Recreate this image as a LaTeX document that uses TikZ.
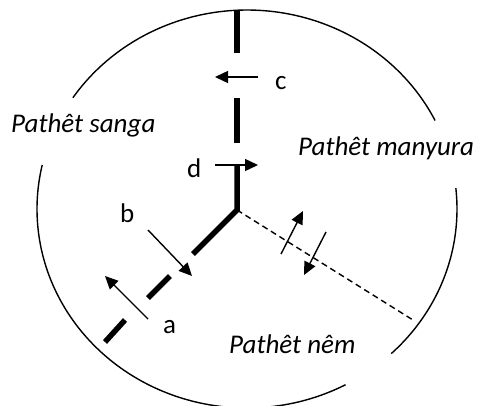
\documentclass[tikz,border=0pt]{standalone}
\usepackage{fontspec}
\setmainfont{Carlito}
\usetikzlibrary{arrows.meta}
\begin{document}
\begin{tikzpicture}[x=1pt,y=-1pt,
  thickseg/.style={line width=5.5pt},
  thinarrow/.style={line width=1.4pt,-{Triangle[length=13pt,width=12pt]}},
  dashline/.style={line width=1.4pt,dash pattern=on 6pt off 4pt},
  circ/.style={line width=1.4pt},
  region/.style={font=\fontsize{27}{31}\selectfont\itshape,anchor=base west,inner sep=0pt},
  letter/.style={font=\fontsize{27}{31}\selectfont,anchor=base west,inner sep=0pt}]
\useasboundingbox (0,0) rectangle (477,405);
\clip (0,0) rectangle (477,405);
% circle arcs
\draw[circ] plot[domain=-146:-26.4,samples=80,smooth] ({247+210*cos(\x)},{209+199*sin(\x)});
\draw[circ] plot[domain=-6:46.6,samples=40,smooth] ({247+210*cos(\x)},{209+199*sin(\x)});
\draw[circ] plot[domain=62:192.8,samples=80,smooth] ({247+210*cos(\x)},{209+199*sin(\x)});
% key points
\coordinate (J) at (237,210);
\coordinate (v1a) at (237,10);  \coordinate (v1b) at (237,53);
\coordinate (v2a) at (237,98);  \coordinate (v2b) at (237,143);
\coordinate (v3a) at (237,165);
\coordinate (d1b) at (193,254);
\coordinate (d2a) at (170,276); \coordinate (d2b) at (148,298);
\coordinate (d3a) at (125,320); \coordinate (d3b) at (105,342);
\coordinate (E) at (413,320);
% thick boundary
\draw[thickseg] (v1a) -- (v1b);
\draw[thickseg] (v2a) -- (v2b);
\draw[thickseg,line join=miter] (v3a) -- (J) -- (d1b);
\draw[thickseg] (d2a) -- (d2b);
\draw[thickseg] (d3a) -- (d3b);
% dashed boundary
\draw[dashline] (J) -- (E);
% arrows
\coordinate (c0) at (258,77);  \coordinate (c1) at (215,77);
\coordinate (dd0) at (215,165); \coordinate (dd1) at (258,165);
\coordinate (b0) at (148,230); \coordinate (b1) at (192,276);
\coordinate (a0) at (148,319); \coordinate (a1) at (105,276);
\coordinate (u0) at (281,254); \coordinate (u1) at (303,211);
\coordinate (w0) at (326,232); \coordinate (w1) at (304,275);
\draw[thinarrow] (c0) -- (c1);
\draw[thinarrow] (dd0) -- (dd1);
\draw[thinarrow] (b0) -- (b1);
\draw[thinarrow] (a0) -- (a1);
\draw[thinarrow] (u0) -- (u1);
\draw[thinarrow] (w0) -- (w1);
% labels
\node[region] (sanga) at (11,132) {Pathêt sanga};
\node[region] (manyura) at (298,155) {Pathêt manyura};
\node[region] (nem) at (229,353) {Pathêt nêm};
\node[letter] (lc) at (275,89) {c};
\node[letter] (ld) at (187,177) {d};
\node[letter] (lb) at (120,222) {b};
\node[letter] (la) at (163,333) {a};
\end{tikzpicture}
\end{document}
